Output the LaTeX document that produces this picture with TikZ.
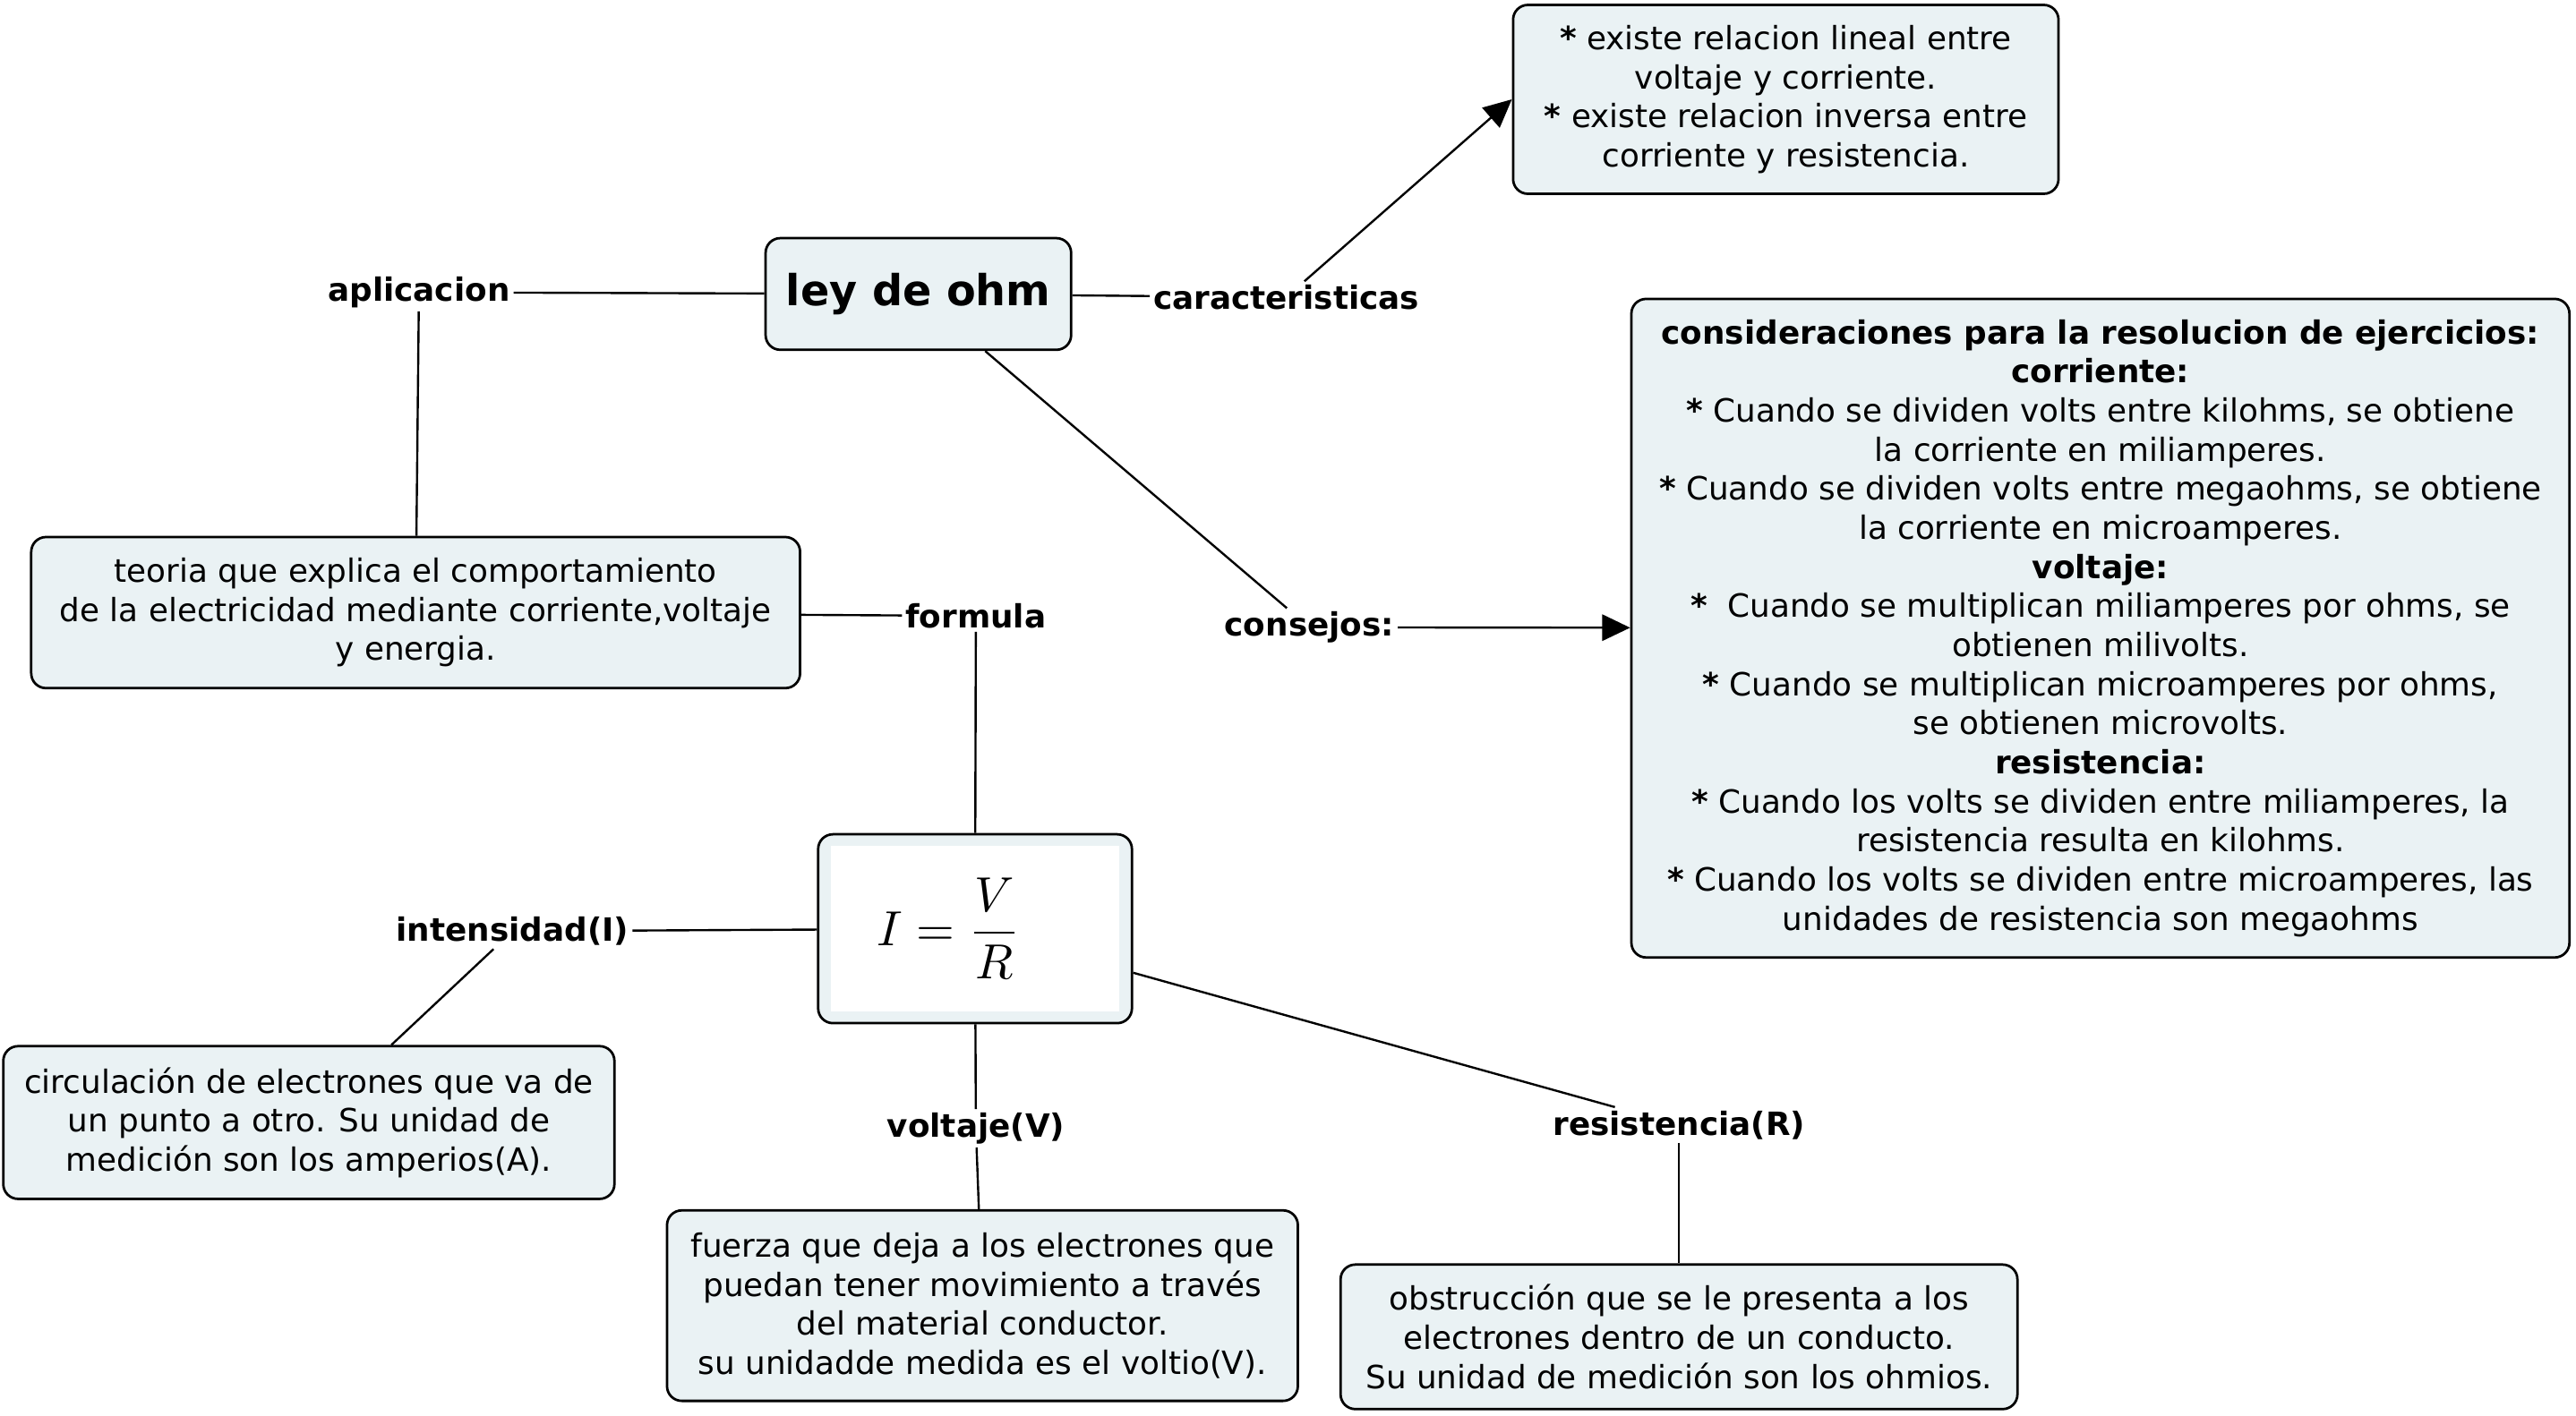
\documentclass[tikz,border=0pt]{standalone}
\usepackage{amsmath}
\usepackage{fontspec}
\setmainfont{DejaVu Sans}
\usetikzlibrary{arrows.meta}
\definecolor{boxfill}{RGB}{234,242,244}

\begin{document}
\begin{tikzpicture}[x=1pt,y=-1pt,
	font=\fontsize{19.5}{23.8}\selectfont,
	box/.style={draw,line width=1.5pt,rounded corners=9pt,fill=boxfill,align=center,inner sep=2pt},
	lbl/.style={font=\fontsize{19.5}{23.8}\selectfont\bfseries,inner sep=2pt},
	link/.style={line width=1.3pt},
	>={Triangle[length=17pt,width=16pt]}]
	\useasboundingbox (0,0) rectangle (1568,862);
	\node [box,minimum width=186pt,minimum height=68pt,font=\fontsize{26}{30}\selectfont\bfseries] (ley) at (559,179) {ley de ohm};
	\node [lbl] (apl) at (255,178) {aplicacion};
	\node [box,minimum width=468pt,minimum height=92pt] (teoria) at (253,373) {teoria que explica el comportamiento\\ de la electricidad mediante corriente,voltaje\\ y energia.};
	\node [lbl] (carac) at (783,181) {caracteristicas};
	\node [box,minimum width=332pt,minimum height=115pt] (existe) at (1087,60.5) {\textbf{*} existe relacion lineal entre\\ voltaje y corriente.\\ \textbf{*} existe relacion inversa entre\\ corriente y resistencia.};
	\node [lbl] (cons) at (797,382) {consejos:};
	\node [box,minimum width=571pt,minimum height=401pt] (consid) at (1278.5,382.5) {\textbf{consideraciones para la resolucion de ejercicios:}\\ \textbf{corriente:}\\ \textbf{*} Cuando se dividen volts entre kilohms, se obtiene\\ la corriente en miliamperes.\\ \textbf{*} Cuando se dividen volts entre megaohms, se obtiene\\ la corriente en microamperes.\\ \textbf{voltaje:}\\ \textbf{*}\ \ Cuando se multiplican miliamperes por ohms, se\\ obtienen milivolts.\\ \textbf{*} Cuando se multiplican microamperes por ohms,\\ se obtienen microvolts.\\ \textbf{resistencia:}\\ \textbf{*} Cuando los volts se dividen entre miliamperes, la\\ resistencia resulta en kilohms.\\ \textbf{*} Cuando los volts se dividen entre microamperes, las\\ unidades de resistencia son megaohms};
	\node [lbl] (formula) at (594,375) {formula};
	\node [box,minimum width=191pt,minimum height=115pt,inner sep=0pt] (ohm) at (593.5,565.5) {\setlength{\fboxsep}{0pt}\colorbox{white}{\parbox[c][101pt][c]{175pt}{\hspace*{28pt}\scalebox{3}{\normalsize$I=\dfrac{V}{R}$}}}};
	\node [lbl] (intens) at (312,567) {intensidad(I)};
	\node [box,minimum width=372pt,minimum height=93pt] (circ) at (188,683.5) {circulación de electrones que va de\\ un punto a otro. Su unidad de\\ medición son los amperios(A).};
	\node [lbl] (volt) at (594,687) {voltaje(V)};
	\node [box,minimum width=384pt,minimum height=116pt] (fuerza) at (598,795) {fuerza que deja a los electrones que\\ puedan tener movimiento a través\\ del material conductor.\\ su unidadde medida es el voltio(V).};
	\node [lbl] (resis) at (1022,685) {resistencia(R)};
	\node [box,minimum width=412pt,minimum height=88pt] (obst) at (1022,814) {obstrucción que se le presenta a los\\ electrones dentro de un conducto.\\ Su unidad de medición son los ohmios.};
	\draw [link] (apl) -- (ley);
	\draw [link] (apl) -- (teoria);
	\draw [link] (ley) -- (carac);
	\draw [link,->] ([xshift=11pt]carac.north) -- (existe.west);
	\draw [link] (ley) -- (cons);
	\draw [link,->] (cons) -- (consid);
	\draw [link] (teoria) -- (formula);
	\draw [link] (formula) -- (ohm);
	\draw [link] (intens) -- (ohm);
	\draw [link] (intens) -- (circ);
	\draw [link] (ohm) -- (volt);
	\draw [link] (volt) -- (fuerza);
	\draw [link] (ohm) -- (resis);
	\draw [link] (resis) -- (obst);
\end{tikzpicture}
\end{document}
